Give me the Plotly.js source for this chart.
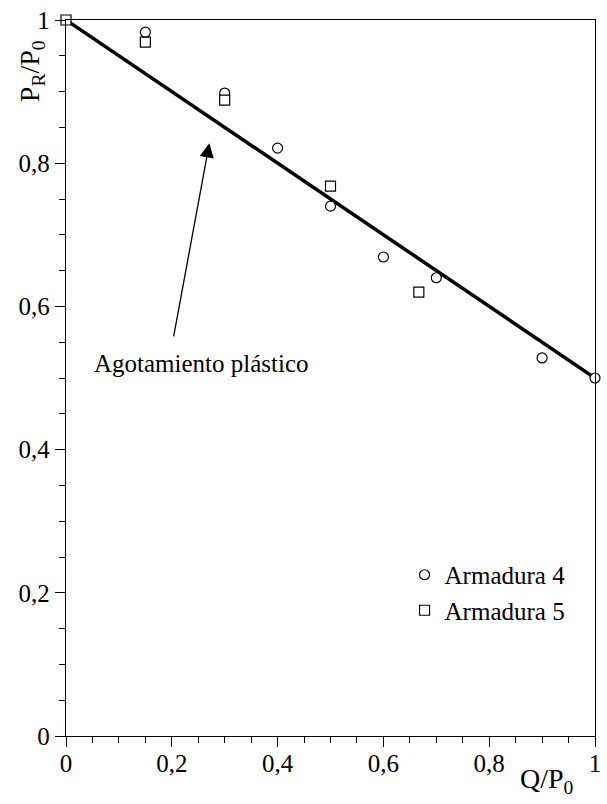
<!DOCTYPE html>
<html>
<head>
<meta charset="utf-8">
<script src="https://cdn.plot.ly/plotly-3.0.1.min.js"></script>
</head>
<body style="margin:0">
<div id="chart" style="width:607px;height:804px"></div>
<script>
// Data
const arm4X = [0.15, 0.30, 0.40, 0.50, 0.60, 0.70, 0.90, 1.00];
const arm4Y = [0.983, 0.898, 0.821, 0.740, 0.669, 0.640, 0.528, 0.500];
const arm5X = [0.00, 0.15, 0.30, 0.50, 0.667];
const arm5Y = [1.000, 0.969, 0.888, 0.768, 0.620];
const lineX = [0, 1];
const lineY = [1, 0.5];
const tickVals = [0, 0.2, 0.4, 0.6, 0.8, 1];
const tickText = ['0', '0,2', '0,4', '0,6', '0,8', '1'];

const FONT = 'Liberation Serif';

const traces = [
  {x: lineX, y: lineY, mode: 'lines', line: {color: '#000', width: 3.5}, showlegend: false, hoverinfo: 'skip'},
  {x: arm4X, y: arm4Y, mode: 'markers', name: 'Armadura 4', cliponaxis: false,
   marker: {symbol: 'circle', size: 10, color: '#fff', line: {color: '#000', width: 1.2}}},
  {x: arm5X, y: arm5Y, mode: 'markers', name: 'Armadura 5', cliponaxis: false,
   marker: {symbol: 'square', size: 10, color: '#fff', line: {color: '#000', width: 1.2}}}
];

function axis(extra) {
  return Object.assign({
    range: [0, 1], tickvals: tickVals, ticktext: tickText,
    ticks: 'outside', ticklen: 10, tickwidth: 1.2, tickcolor: '#000',
    showline: true, linecolor: '#000', linewidth: 1.3, mirror: true,
    showgrid: false, zeroline: false,
    tickfont: {family: FONT, size: 25},
    minor: {dtick: 0.05, ticks: 'outside', ticklen: 6, tickwidth: 1, tickcolor: '#000', showgrid: false}
  }, extra || {});
}

const layout = {
  width: 607, height: 804,
  margin: {l: 66, r: 12, t: 20, b: 68},
  paper_bgcolor: '#fff', plot_bgcolor: '#fff',
  font: {family: FONT, size: 25, color: '#000'},
  xaxis: axis({ticklabelstandoff: -5}),
  yaxis: axis(),
  showlegend: true,
  legend: {x: 0.64, y: 0.257, xanchor: 'left', yanchor: 'top', bgcolor: 'rgba(0,0,0,0)',
           font: {family: FONT, size: 25}},
  annotations: [
    {xref: 'x', yref: 'y', x: 0.271, y: 0.828, axref: 'x', ayref: 'y', ax: 0.203, ay: 0.556,
     text: '', showarrow: true, arrowhead: 2, arrowsize: 2.2, arrowwidth: 1.3, arrowcolor: '#000', standoff: 0},
    {xref: 'x', yref: 'y', x: 0.05, y: 0.52, xanchor: 'left', yanchor: 'middle', showarrow: false,
     text: 'Agotamiento plástico', font: {family: FONT, size: 25}},
    {xref: 'paper', yref: 'paper', x: -0.065, y: 0.928, xanchor: 'center', yanchor: 'middle', showarrow: false,
     textangle: -90, text: 'P<sub>R</sub>/P<sub>0</sub>', font: {family: FONT, size: 28}},
    {xref: 'paper', yref: 'paper', x: 0.91, y: -0.062, xanchor: 'center', yanchor: 'middle', showarrow: false,
     text: 'Q/P<sub>0</sub>', font: {family: FONT, size: 28}}
  ]
};

Plotly.newPlot('chart', traces, layout, {displayModeBar: false});
</script>
</body>
</html>
